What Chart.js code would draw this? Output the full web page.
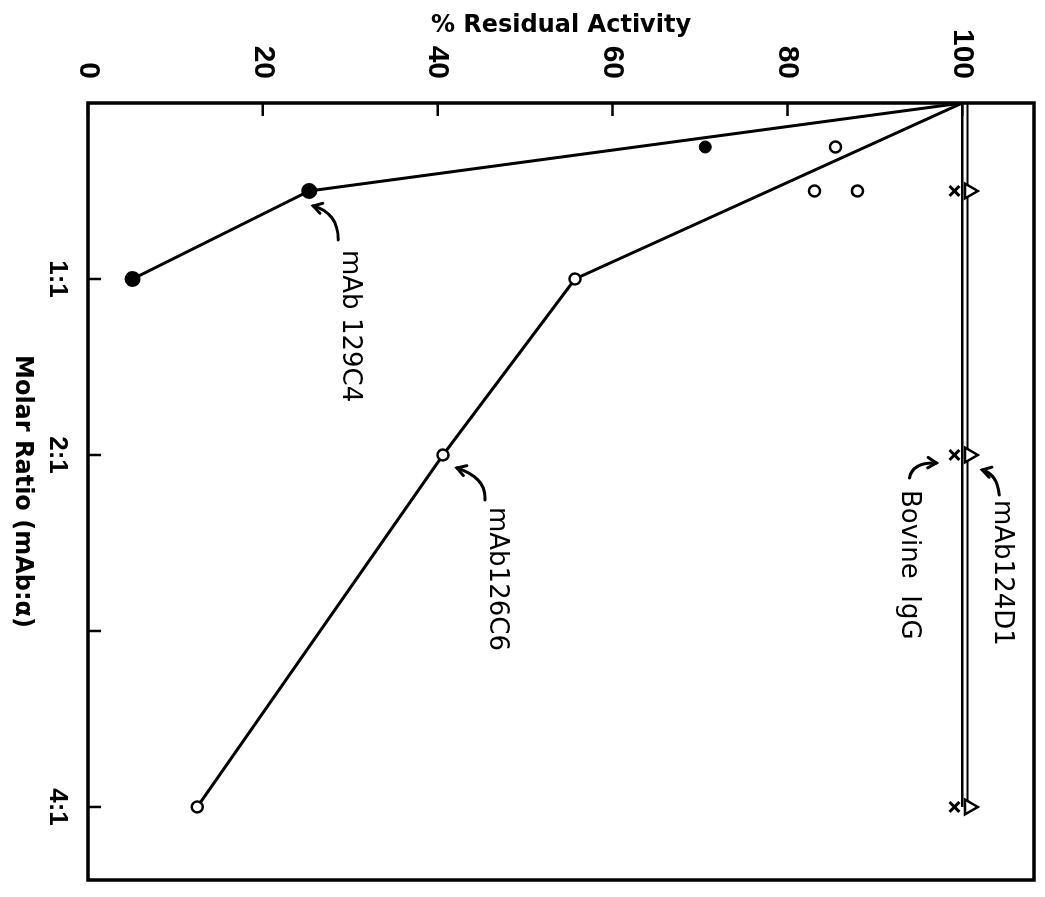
<!DOCTYPE html>
<html>
<head>
<meta charset="utf-8">
<title>Residual activity vs molar ratio</title>
<script src="https://cdn.jsdelivr.net/npm/chart.js@4"></script>
<style>
  html, body { margin: 0; padding: 0; background: #fff; overflow: hidden; }
  /* the figure is printed sideways: draw it upright, then turn it a quarter clockwise */
  #wrap {
    position: absolute; left: 0; top: 0;
    width: 897px; height: 1045px;
    transform-origin: 0 0;
    transform: translateX(1045px) rotate(90deg);
  }
  #chart { display: block; }
</style>
</head>
<body>
<div id="wrap"><canvas id="chart" width="897" height="1045"></canvas></div>
<script>
// mAb 129C4 (filled circles)
const ratio129C4 = [0, 0.5, 1];
const activity129C4 = [100, 25.3, 5.1];
const ratio129C4Extra = [0.25];
const activity129C4Extra = [70.6];

// mAb 126C6 (open circles)
const ratio126C6 = [0, 1, 2, 4];
const activity126C6 = [100, 55.7, 40.6, 12.5];
const ratio126C6Extra = [0.25, 0.5, 0.5];
const activity126C6Extra = [85.5, 83.1, 88.0];

// controls: mAb 124D1 (triangles) and bovine IgG (crosses)
const ratioControlLine = [0, 0.5, 2, 4];
const activity124D1Line = [100.6, 100.6, 100.6, 100.6];
const activityBovineLine = [100, 100, 100, 100];
const ratioControlMarks = [0.5, 2, 4];
const activity124D1Marks = [100.8, 100.8, 100.8];
const activityBovineMarks = [99.1, 99.1, 99.1];

// axes
const ratioTicks = [1, 2, 3, 4];
const ratioTickLabels = ['1:1', '2:1', '', '4:1'];
const activityTicks = [0, 20, 40, 60, 80, 100];
const activityTickLabels = ['0', '20', '40', '60', '80', '100'];

const pts = (xs, ys) => xs.map((x, i) => ({ x: x, y: ys[i] }));

// callouts: anchor on a data point, offsets in px
const callouts = [
  { text: 'mAb 129C4', point: [ratio129C4[1], activity129C4[1]],
    tail: [49, -29], bend: [22, -29], tip: [15, -4], label: [59, -41] },
  { text: 'mAb126C6', point: [ratio126C6[2], activity126C6[2]],
    tail: [45, -42], bend: [23, -44], tip: [13, -14], label: [52, -54] },
  { text: 'mAb124D1', point: [ratioControlMarks[1], activity124D1Marks[1]],
    tail: [40, -30], bend: [19, -28], tip: [15, -13], label: [45, -32] },
  { text: 'Bovine  IgG', point: [ratioControlMarks[1], activityBovineMarks[1]],
    tail: [23, 45], bend: [7, 42], tip: [8, 18], label: [35, 46] }
];

function drawArrow(ctx, x0, y0, cx, cy, x1, y1) {
  ctx.beginPath();
  ctx.moveTo(x0, y0);
  ctx.quadraticCurveTo(cx, cy, x1, y1);
  ctx.stroke();
  const ang = Math.atan2(y1 - cy, x1 - cx);
  ctx.beginPath();
  ctx.moveTo(x1 - 10 * Math.cos(ang - 0.55), y1 - 10 * Math.sin(ang - 0.55));
  ctx.lineTo(x1, y1);
  ctx.lineTo(x1 - 10 * Math.cos(ang + 0.55), y1 - 10 * Math.sin(ang + 0.55));
  ctx.stroke();
}

// box around the plot, inward tick marks and the labelled arrows
const frameAndCallouts = {
  id: 'frameAndCallouts',
  afterDatasetsDraw(chart) {
    const { ctx, chartArea: a, scales: { x, y } } = chart;
    ctx.save();
    ctx.strokeStyle = '#000';
    ctx.lineWidth = 3.5;
    ctx.strokeRect(a.left, a.top, a.right - a.left, a.bottom - a.top);

    ctx.lineWidth = 2.5;
    ctx.beginPath();
    x.ticks.forEach(t => {
      const px = x.getPixelForValue(t.value);
      ctx.moveTo(px, a.bottom);
      ctx.lineTo(px, a.bottom - 13);
    });
    y.ticks.forEach(t => {
      const py = y.getPixelForValue(t.value);
      ctx.moveTo(a.left, py);
      ctx.lineTo(a.left + 13, py);
    });
    ctx.stroke();

    ctx.lineWidth = 3;
    ctx.lineCap = 'round';
    ctx.fillStyle = '#000';
    ctx.font = '26px "DejaVu Sans"';
    ctx.textAlign = 'left';
    ctx.textBaseline = 'middle';
    callouts.forEach(c => {
      const px = x.getPixelForValue(c.point[0]);
      const py = y.getPixelForValue(c.point[1]);
      drawArrow(ctx, px + c.tail[0], py + c.tail[1], px + c.bend[0], py + c.bend[1],
        px + c.tip[0], py + c.tip[1]);
      ctx.fillText(c.text, px + c.label[0], py + c.label[1]);
    });
    ctx.restore();
  }
};

const tickFont = { family: '"Liberation Sans"', weight: 'bold' };
const titleFont = { family: '"DejaVu Sans"', size: 24, weight: 'bold' };

new Chart(document.getElementById('chart'), {
  type: 'scatter',
  data: {
    datasets: [
      {
        label: 'mAb124D1 points',
        data: pts(ratioControlMarks, activity124D1Marks),
        pointStyle: 'triangle', pointRadius: 8.5,
        pointBackgroundColor: '#fff', pointBorderColor: '#000', pointBorderWidth: 2.5
      },
      {
        label: 'Bovine IgG points',
        data: pts(ratioControlMarks, activityBovineMarks),
        pointStyle: 'crossRot', pointRadius: 7,
        pointBorderColor: '#000', pointBorderWidth: 3
      },
      {
        label: 'mAb 129C4 replicate',
        data: pts(ratio129C4Extra, activity129C4Extra),
        pointRadius: 6, pointBackgroundColor: '#000', pointBorderColor: '#000'
      },
      {
        label: 'mAb126C6 replicates',
        data: pts(ratio126C6Extra, activity126C6Extra),
        pointRadius: 5.5, pointBackgroundColor: '#fff', pointBorderColor: '#000', pointBorderWidth: 2.5
      },
      {
        label: 'mAb 129C4',
        data: pts(ratio129C4, activity129C4),
        showLine: true, borderColor: '#000', borderWidth: 3,
        pointRadius: ctx => (ctx.dataIndex === 0 ? 0 : 6.5),
        pointBackgroundColor: '#000', pointBorderColor: '#000'
      },
      {
        label: 'mAb126C6',
        data: pts(ratio126C6, activity126C6),
        showLine: true, borderColor: '#000', borderWidth: 3,
        pointRadius: ctx => (ctx.dataIndex === 0 ? 0 : 5.5),
        pointBackgroundColor: '#fff', pointBorderColor: '#000', pointBorderWidth: 2.5
      },
      {
        label: 'mAb124D1',
        data: pts(ratioControlLine, activity124D1Line),
        showLine: true, borderColor: '#000', borderWidth: 2, pointRadius: 0
      },
      {
        label: 'Bovine IgG',
        data: pts(ratioControlLine, activityBovineLine),
        showLine: true, borderColor: '#000', borderWidth: 2.5, pointRadius: 0
      }
    ]
  },
  options: {
    responsive: false,
    animation: false,
    devicePixelRatio: 1,
    layout: { padding: { top: 5, right: 17, left: 0, bottom: 0 } },
    plugins: { legend: { display: false }, tooltip: { enabled: false } },
    scales: {
      x: {
        type: 'linear', position: 'bottom', min: 0, max: 4.415,
        grid: { display: false, drawTicks: false },
        border: { display: false },
        afterBuildTicks: s => { s.ticks = ratioTicks.map(v => ({ value: v })); },
        ticks: {
          autoSkip: false, maxRotation: 0, minRotation: 0, padding: 15, color: '#000',
          font: Object.assign({ size: 26 }, tickFont),
          callback: (v, i) => ratioTickLabels[i]
        },
        title: {
          display: true, text: 'Molar Ratio (mAb:α)', color: '#000',
          font: titleFont, padding: { top: 0, bottom: 8 }
        },
        afterFit: s => { s.height = 88; s.paddingLeft = 0; s.paddingRight = 0; }
      },
      y: {
        type: 'linear', position: 'left', min: 0, max: 108.2,
        grid: { display: false, drawTicks: false },
        border: { display: false },
        afterBuildTicks: s => { s.ticks = activityTicks.map(v => ({ value: v })); },
        ticks: {
          padding: 24, color: '#000',
          font: Object.assign({ size: 30 }, tickFont),
          callback: (v, i) => activityTickLabels[i]
        },
        title: {
          display: true, text: '% Residual Activity', color: '#000',
          font: titleFont, padding: { top: 11, bottom: 0 }
        },
        afterFit: s => { s.width = 103; s.paddingTop = 0; s.paddingBottom = 0; }
      }
    }
  },
  plugins: [frameAndCallouts]
});
</script>
</body>
</html>
